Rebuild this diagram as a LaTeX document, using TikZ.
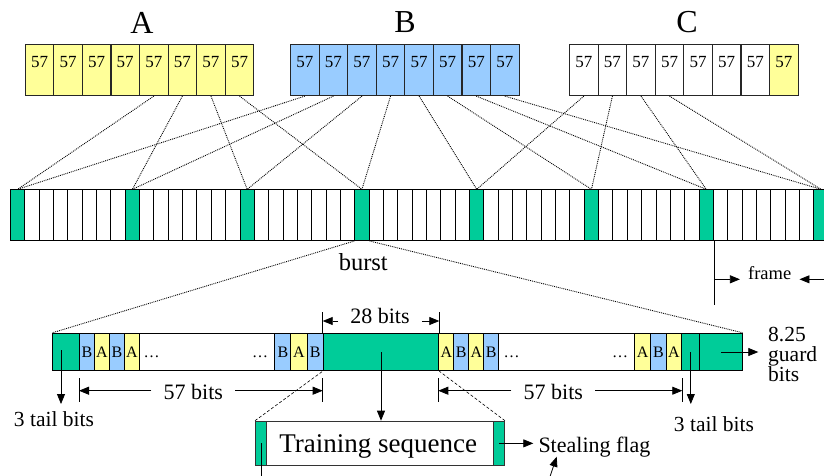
\documentclass[tikz,border=0pt]{standalone}
\usepackage{fontspec}
\setmainfont{Liberation Serif}
\usetikzlibrary{arrows.meta,calc}
\definecolor{cyel}{HTML}{FFFF99}
\definecolor{cblu}{HTML}{99CCFF}
\definecolor{cgrn}{HTML}{00CC99}
\begin{document}
\begin{tikzpicture}[x=1pt,y=-1pt,
  topcell/.style={draw=black!85, line width=1.1pt, minimum width=28.57pt, minimum height=51pt,
    text height=22.7pt, text depth=28.3pt, inner sep=0pt, anchor=north west,
    font=\fontsize{17}{17}\selectfont},
  slot/.style={draw=black, line width=1pt, minimum width=14.345pt, minimum height=50.7pt,
    inner sep=0pt, anchor=north west},
  bcell/.style={draw=black, line width=1pt, minimum height=37.4pt, inner sep=0pt,
    anchor=west, font=\fontsize{16}{16}\selectfont},
  dotline/.style={densely dotted, line width=0.9pt},
  dashline/.style={dash pattern=on 3pt off 2pt, line width=0.6pt},
  arr/.style={-{Triangle[length=10pt,width=8pt]}, line width=0.8pt},
  tick/.style={line width=0.8pt},
  lbl/.style={font=\fontsize{22}{22}\selectfont, inner ysep=0pt, inner xsep=0pt},
  dimlbl/.style={font=\fontsize{22}{22}\selectfont, inner ysep=0pt, inner xsep=12pt}
]
\useasboundingbox (0,0) rectangle (824,475);
\clip (0,0) rectangle (824,475);

% ---- top rows
\node[font=\fontsize{32}{32}\selectfont, inner sep=0pt] (labA) at (142,22.5) {A};
\node[font=\fontsize{32}{32}\selectfont, inner sep=0pt] (labB) at (405,22.5) {B};
\node[font=\fontsize{32}{32}\selectfont, inner sep=0pt] (labC) at (687,22.5) {C};
\foreach \i in {0,...,7} {
  \node[topcell, fill=cyel] (a\i) at (24.7+\i*28.57,44) {57};
  \node[topcell, fill=cblu] (b\i) at (290+\i*28.57,44) {57};
}
\foreach \i in {0,...,6} {
  \node[topcell, fill=white] (c\i) at (569+\i*28.57,44) {57};
}
\node[topcell, fill=cyel] (c7) at (569+7*28.57,44) {57};

% ---- frame row
\foreach \k in {0,...,56} {
  \pgfmathtruncatemacro\m{mod(\k,8)}
  \ifnum\m=0 \def\fc{cgrn}\else\def\fc{white}\fi
  \node[slot, fill=\fc] (s\k) at (10+\k*14.345,189.3) {};
}

% ---- interleaving connectors
\foreach \j in {0,...,3} {
  \pgfmathtruncatemacro\aa{4+\j}
  \pgfmathtruncatemacro\sa{8*\j}
  \pgfmathtruncatemacro\sb{8*(4+\j)}
  \draw[dotline] (a\aa.south) -- (s\sa.north);
  \draw[dotline] (b\j.south) -- (s\sa.north);
  \draw[dotline] (b\aa.south) -- (s\sb.north);
  \draw[dotline] (c\j.south) -- (s\sb.north);
}

% ---- burst label and frame marker
\node[font=\fontsize{24.5}{24.5}\selectfont, inner sep=0pt] (burst) at (363.3,262) {burst};
\coordinate (frb) at (s48.south east |- 0,305);
\draw[line width=0.8pt] (s48.south east) -- (frb);
\node[font=\fontsize{18.5}{18.5}\selectfont, inner ysep=0pt, inner xsep=8pt] (frm) at (769.7,273) {frame};
\coordinate (fl) at (s48.south east |- 0,279.3);
\coordinate (fr) at (826,279.3);
\draw[arr] (fl) -- (fl -| frm.west);
\draw[arr] (fr) -- (fr -| frm.east);

% ---- burst row
\foreach \n/\xa/\xb/\c/\t in {
  tl/52.3/79/cgrn/{},
  p1/79/94/cblu/B, p2/94/109/cyel/A, p3/109/124/cblu/B, p4/124/139/cyel/A,
  w1/139/274.3/white/{},
  p5/274.3/290.4/cblu/B, p6/290.4/306.5/cyel/A, p7/306.5/322.7/cblu/B,
  ts/322.7/438.3/cgrn/{},
  q1/438.3/453.3/cyel/A, q2/453.3/468.3/cblu/B, q3/468.3/483.3/cyel/A, q4/483.3/498.3/cblu/B,
  w2/498.3/634.3/white/{},
  q5/634.3/650/cyel/A, q6/650/665.7/cblu/B, q7/665.7/681.3/cyel/A,
  tr/681.3/699.3/cgrn/{},
  gd/699.3/741.7/cgrn/{}} {
  \pgfmathsetmacro\w{\xb-\xa}
  \node[bcell, fill=\c, minimum width=\w pt] (\n) at (\xa,352) {\t};
}
\node[font=\fontsize{16}{16}\selectfont, inner sep=0pt, anchor=base] (e1) at (151.7,357.5) {\ldots};
\node[font=\fontsize{16}{16}\selectfont, inner sep=0pt, anchor=base] (e2) at (260,357.5) {\ldots};
\node[font=\fontsize{16}{16}\selectfont, inner sep=0pt, anchor=base] (e3) at (511.7,357.5) {\ldots};
\node[font=\fontsize{16}{16}\selectfont, inner sep=0pt, anchor=base] (e4) at (620,357.5) {\ldots};

% burst zoom lines
\draw[dotline] (s24.south west) -- (tl.north west);
\draw[dotline] (s24.south east) -- (gd.north east);

% ---- 28 bits
\draw[tick] (ts.north west) -- (ts.north west |- 0,312);
\draw[tick] (ts.north east) -- (ts.north east |- 0,312);
\node[dimlbl] (d28) at (380,315.8) {28 bits};
\draw[arr] (d28.west |- 0,321) -- (ts.west |- 0,321);
\draw[arr] (d28.east |- 0,321) -- (ts.east |- 0,321);

% ---- 57 bits (left)
\draw[tick] (p1.south west |- 0,378) -- (p1.south west |- 0,402);
\draw[tick] (ts.south west |- 0,378) -- (ts.south west |- 0,402);
\node[dimlbl] (d57a) at (193.3,392) {57 bits};
\draw[arr] (d57a.west |- 0,390.7) -- (p1.west |- 0,390.7);
\draw[arr] (d57a.east |- 0,390.7) -- (ts.west |- 0,390.7);

% ---- 57 bits (right)
\draw[tick] (q1.south west |- 0,378) -- (q1.south west |- 0,402);
\draw[tick] (q7.south east |- 0,378) -- (q7.south east |- 0,402);
\node[dimlbl] (d57b) at (553.3,392) {57 bits};
\draw[arr] (d57b.west |- 0,390.7) -- (q1.west |- 0,390.7);
\draw[arr] (d57b.east |- 0,390.7) -- (q7.east |- 0,390.7);

% ---- tail bits
\coordinate (tla) at (61,350);
\draw[arr] (tla) -- (tla |- 0,404);
\node[lbl, font=\fontsize{21.5}{21.5}\selectfont] (tbl) at (54,419.5) {3 tail bits};
\draw[arr] (tr.center) -- (tr.center |- 0,404);
\node[lbl, font=\fontsize{21.5}{21.5}\selectfont] (tbr) at (714,424) {3 tail bits};

% ---- guard bits
\node[font=\fontsize{21.5}{20}\selectfont, inner sep=0pt, align=left, anchor=base west] (gbl) at (768,381.7) {8.25\\guard\\bits};
\coordinate (gda) at (758.3,352);
\draw[arr] (gd.center) -- (gda);

% ---- training sequence
\node[draw=black!80, line width=1pt, minimum width=249pt, minimum height=44.3pt, inner sep=0pt,
  anchor=north west, fill=white] (trb) at (255,420.7) {};
\node[draw=black!80, line width=1pt, fill=cgrn, minimum width=11pt, minimum height=44.3pt,
  inner sep=0pt, anchor=north west] (trl) at (255,420.7) {};
\node[draw=black!80, line width=1pt, fill=cgrn, minimum width=11.3pt, minimum height=44.3pt,
  inner sep=0pt, anchor=north west] (trr) at (492.7,420.7) {};
\node[font=\fontsize{27}{27}\selectfont, inner sep=0pt, anchor=base] (trt) at (378.3,452.7) {Training sequence};
\draw[arr] (ts.center) -- (ts.center |- trb.north);
\draw[dashline] (trb.north west) -- (ts.south west);
\draw[dashline] (trb.north east) -- (ts.south east);
\draw[line width=0.8pt] (trl.center) -- (trl.center |- 0,478);

% ---- stealing flag
\node[lbl, inner xsep=5pt, anchor=base west] (stl) at (533.3,452.7) {Stealing flag};
\draw[arr] (trr.center) -- (trr.center -| stl.west);
\coordinate (sfb) at (549.5,478);
\coordinate (sft) at (556.7,456.7);
\draw[arr] (sfb) -- (sft);
\end{tikzpicture}
\end{document}
